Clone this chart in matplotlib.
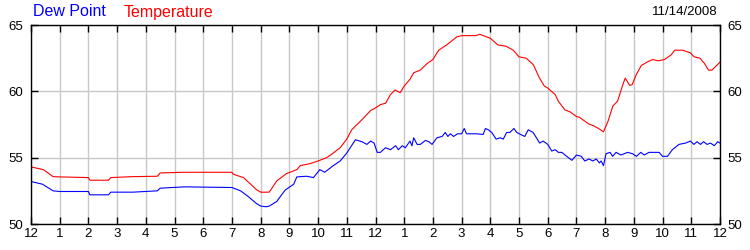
import numpy as np
import matplotlib
matplotlib.use("Agg")
import matplotlib.pyplot as plt

plt.rcParams['font.family'] = ['Liberation Sans', 'DejaVu Sans']

# temperature readings (hour of day, degF)
temp_hours = [0.0, 0.43, 0.77, 1.0, 2.0, 2.05, 2.7, 2.78, 3.55, 4.4, 4.5, 5.35, 6.17, 7.0,
              7.05, 7.4, 7.6, 7.85, 8.0, 8.3, 8.56, 8.9, 9.26, 9.38, 9.72, 10.0, 10.3,
              10.53, 10.77, 11.0, 11.17, 11.5, 11.83, 12.0, 12.17, 12.35, 12.52, 12.68,
              12.86, 13.0, 13.2, 13.33, 13.56, 13.8, 14.0, 14.2, 14.48, 14.83, 15.0, 15.5,
              15.63, 16.0, 16.26, 16.55, 16.8, 17.0, 17.25, 17.5, 17.7, 17.88, 18.0, 18.26,
              18.37, 18.6, 18.78, 19.0, 19.1, 19.42, 19.6, 19.77, 19.94, 20.1, 20.27,
              20.43, 20.63, 20.7, 20.85, 20.94, 21.08, 21.26, 21.5, 21.66, 21.84, 22.07,
              22.3, 22.42, 22.7, 22.97, 23.1, 23.3, 23.46, 23.6, 23.72, 24.0]
temp_vals = [54.3, 54.1, 53.57, 53.55, 53.5, 53.3, 53.3, 53.5, 53.57, 53.6, 53.85, 53.9, 53.9, 53.9,
             53.75, 53.5, 53.1, 52.6, 52.4, 52.4, 53.25, 53.8, 54.1, 54.4, 54.55, 54.75, 55.0,
             55.35, 55.75, 56.4, 57.1, 57.8, 58.55, 58.75, 59.0, 59.1, 59.75, 60.1,
             59.9, 60.4, 60.9, 61.4, 61.6, 62.1, 62.4, 63.1, 63.5, 64.1, 64.2, 64.2,
             64.3, 64.0, 63.5, 63.4, 63.1, 62.6, 62.5, 62.0, 61.05, 60.4, 60.25, 59.75,
             59.25, 58.6, 58.45, 58.1, 58.05, 57.55, 57.4, 57.2, 56.95, 57.75, 58.9,
             59.25, 60.6, 61.0, 60.45, 60.5, 61.25, 61.95, 62.25, 62.4, 62.3, 62.4,
             62.75, 63.1, 63.1, 62.9, 62.6, 62.5, 62.1, 61.6, 61.6, 62.2]

# dew point readings (hour of day, degF)
dew_hours = [0.0, 0.4, 0.77, 1.0, 2.0, 2.05, 2.7, 2.78, 3.55, 4.4, 4.5, 5.35, 7.0, 7.3, 7.55,
             7.85, 8.0, 8.2, 8.3, 8.56, 8.85, 9.15, 9.26, 9.6, 9.84, 10.06, 10.23, 10.53,
             10.77, 11.0, 11.3, 11.53, 11.7, 11.83, 11.95, 12.06, 12.17, 12.35, 12.52, 12.7,
             12.8, 12.93, 13.04, 13.2, 13.27, 13.33, 13.45, 13.56, 13.74, 13.86, 13.97,
             14.14, 14.32, 14.43, 14.52, 14.61, 14.72, 14.86, 15.0, 15.09, 15.17, 15.52,
             15.75, 15.83, 15.93, 16.05, 16.2, 16.34, 16.45, 16.57, 16.68, 16.82, 16.92,
             17.1, 17.2, 17.32, 17.49, 17.72, 17.84, 18.0, 18.14, 18.26, 18.37, 18.49,
             18.66, 18.84, 19.0, 19.17, 19.29, 19.44, 19.57, 19.69, 19.8, 19.86, 19.94,
             20.03, 20.17, 20.26, 20.38, 20.55, 20.78, 20.95, 21.09, 21.24, 21.36, 21.53,
             21.88, 22.0, 22.17, 22.34, 22.57, 22.8, 22.97, 23.09, 23.2, 23.32, 23.43,
             23.55, 23.67, 23.8, 23.92, 24.0]
dew_vals = [53.2, 53.0, 52.5, 52.45, 52.45, 52.2, 52.2, 52.4, 52.4, 52.5, 52.7, 52.8, 52.75, 52.5, 52.1,
            51.55, 51.35, 51.3, 51.35, 51.7, 52.55, 53.0, 53.55, 53.6, 53.5, 54.1, 53.9, 54.4,
            54.75, 55.35, 56.35, 56.2, 56.0, 56.25, 56.1, 55.4, 55.4, 55.75, 55.6, 55.9,
            55.6, 55.9, 55.75, 56.25, 55.9, 56.5, 56.0, 56.0, 56.3, 56.2, 56.0,
            56.5, 56.6, 56.9, 56.6, 56.8, 56.6, 56.8, 56.8, 57.2, 56.8, 56.8,
            56.75, 57.2, 57.1, 56.9, 56.4, 56.5, 56.4, 56.9, 56.9, 57.2, 56.9,
            56.7, 56.6, 57.1, 56.9, 56.1, 56.25, 56.0, 55.5, 55.6, 55.4, 55.4,
            55.1, 54.8, 55.2, 55.1, 54.75, 54.9, 54.75, 54.9, 54.6, 54.75, 54.4,
            55.3, 55.4, 55.1, 55.4, 55.2, 55.4, 55.3, 55.1, 55.4, 55.2, 55.4,
            55.4, 55.1, 55.1, 55.6, 56.0, 56.1, 56.25, 56.0, 56.2, 56.0, 56.2,
            56.0, 56.1, 55.9, 56.2, 56.1]

hour_labels = ['12', '1', '2', '3', '4', '5', '6', '7', '8', '9', '10', '11',
               '12', '1', '2', '3', '4', '5', '6', '7', '8', '9', '10', '11', '12']
y_ticks = [50, 55, 60, 65]
date_text = '11/14/2008'

fig = plt.figure(figsize=(7.5, 2.5), dpi=100)
ax = fig.add_axes([31 / 750, 1 - 224 / 250, 689 / 750, 199 / 250])

ax.plot(dew_hours, dew_vals, color='#0000ff', lw=0.8)
ax.plot(temp_hours, temp_vals, color='#ff0000', lw=0.8)

ax.set_xlim(0, 24)
ax.set_ylim(50, 65)
ax.set_xticks(np.arange(25))
ax.set_xticklabels(hour_labels)
ax.set_yticks(y_ticks)
ax.set_yticklabels([str(v) for v in y_ticks])
ax.grid(True, color='#c8c8c8', lw=1)
ax.set_axisbelow(True)

ax.tick_params(direction='in', length=5, width=1, color='black', top=True, right=True,
               labelright=True, labelsize=9.5, pad=3)
ax.tick_params(axis='y', pad=5.5)
for s in ax.spines.values():
    s.set_color('black')
    s.set_linewidth(1)

fig.text(33 / 750, 1 - 12 / 250, 'Dew Point', color='#0000ff', fontsize=11.5, va='center', ha='left')
fig.text(124 / 750, 1 - 12 / 250, 'Temperature', color='#ff0000', fontsize=11.5, va='center', ha='left')
fig.text(718 / 750, 1 - 12 / 250, date_text, color='black', fontsize=9.5, va='center', ha='right')

fig.savefig('out.png', dpi=100)
